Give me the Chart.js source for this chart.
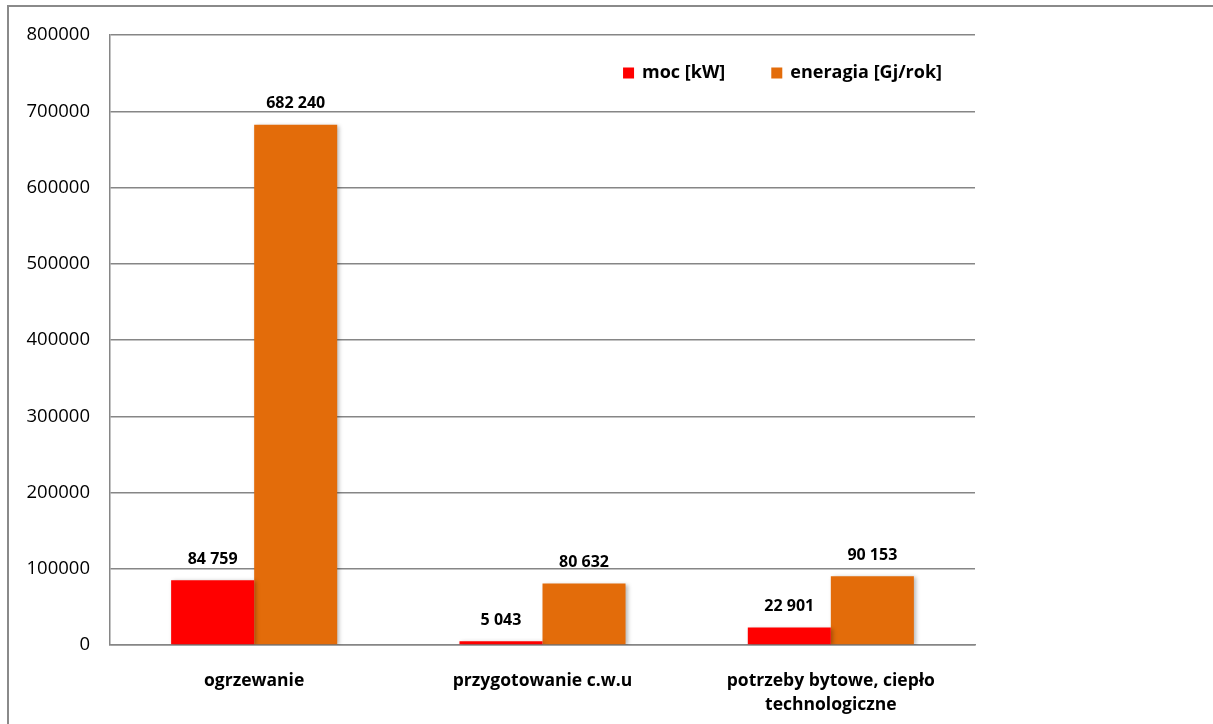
<!DOCTYPE html>
<html>
<head>
<meta charset="utf-8">
<script src="https://cdn.jsdelivr.net/npm/chart.js@4.4.1/dist/chart.umd.min.js"></script>
<style>
  html, body { margin: 0; padding: 0; background: #fff; overflow: hidden; }
  #frame { position: absolute; left: 7px; top: 5px; width: 1400px; height: 900px;
           border: 2px solid #8a8a8a; box-sizing: border-box; }
  #wrap { position: absolute; left: 0; top: 0; width: 1213px; height: 724px; }
</style>
</head>
<body>
<div id="frame"></div>
<div id="wrap"><canvas id="chart" width="1213" height="724"></canvas></div>
<script>
// Zapotrzebowanie na ciepło według rodzaju potrzeb
const categories = [
  'ogrzewanie',
  'przygotowanie c.w.u',
  ['potrzeby bytowe, ciepło', 'technologiczne']
];
const mocKW = [84759, 5043, 22901];
const energiaGJ = [682240, 80632, 90153];
const yTicks = [0, 100000, 200000, 300000, 400000, 500000, 600000, 700000, 800000];

const FONT = '"Open Sans", "Liberation Sans", sans-serif';

function formatSpaced(v) {
  return String(Math.round(v)).replace(/\B(?=(\d{3})+(?!\d))/g, ' ');
}

// Soft drop shadow under the bars
const barShadow = {
  id: 'barShadow',
  beforeDatasetsDraw(chart) {
    const ctx = chart.ctx;
    ctx.save();
    ctx.shadowColor = 'rgba(0,0,0,0.28)';
    ctx.shadowBlur = 4;
    ctx.shadowOffsetX = 2;
    ctx.shadowOffsetY = 1;
  },
  afterDatasetsDraw(chart) {
    chart.ctx.restore();
  }
};

// Value labels above every bar
const valueLabels = {
  id: 'valueLabels',
  afterDatasetsDraw(chart) {
    const ctx = chart.ctx;
    ctx.save();
    ctx.font = 'bold 16px ' + FONT;
    ctx.fillStyle = '#000';
    ctx.textAlign = 'center';
    ctx.textBaseline = 'middle';
    chart.data.datasets.forEach((ds, di) => {
      const meta = chart.getDatasetMeta(di);
      meta.data.forEach((bar, i) => {
        ctx.fillText(formatSpaced(ds.data[i]), bar.x, bar.y - 21);
      });
    });
    ctx.restore();
  }
};

// Legend drawn inside the plot area, top-right corner
const innerLegend = {
  id: 'innerLegend',
  afterDraw(chart) {
    const ctx = chart.ctx;
    const area = chart.chartArea;
    const box = 11, gapText = 8, gapItem = 46;
    ctx.save();
    ctx.font = 'bold 18px ' + FONT;
    ctx.textBaseline = 'middle';
    ctx.textAlign = 'left';
    const items = chart.data.datasets.map(ds => ({
      text: ds.label, color: ds.backgroundColor, w: ctx.measureText(ds.label).width
    }));
    const total = items.reduce((s, it) => s + box + gapText + it.w, 0) + gapItem * (items.length - 1);
    let x = area.right - 33 - total;
    const y = area.top + 38;
    items.forEach(it => {
      ctx.fillStyle = it.color;
      ctx.fillRect(x, y - box / 2, box, box);
      ctx.fillStyle = '#000';
      ctx.fillText(it.text, x + box + gapText, y);
      x += box + gapText + it.w + gapItem;
    });
    ctx.restore();
  }
};

new Chart(document.getElementById('chart'), {
  type: 'bar',
  data: {
    labels: categories,
    datasets: [
      { label: 'moc [kW]', data: mocKW, backgroundColor: '#ff0000', borderWidth: 0,
        categoryPercentage: 0.576, barPercentage: 1.0 },
      { label: 'eneragia [Gj/rok]', data: energiaGJ, backgroundColor: '#e36c0a', borderWidth: 0,
        categoryPercentage: 0.576, barPercentage: 1.0 }
    ]
  },
  options: {
    responsive: false,
    animation: false,
    devicePixelRatio: 1,
    layout: { padding: { left: 0, top: 35, right: 238, bottom: 0 } },
    plugins: {
      tooltip: { enabled: false },
      legend: { display: false }
    },
    scales: {
      x: {
        grid: { display: false },
        border: { display: true, color: '#868686', width: 1.5 },
        ticks: {
          color: '#000',
          padding: 16,
          maxRotation: 0,
          font: { family: FONT, size: 17.5, weight: 'bold', lineHeight: 1.37 }
        },
        afterFit(scale) { scale.height = 724 - 645; }
      },
      y: {
        min: 0,
        max: 800000,
        afterBuildTicks(scale) { scale.ticks = yTicks.map(v => ({ value: v })); },
        grid: { color: '#868686', lineWidth: 1.5, drawTicks: false },
        border: { display: true, color: '#868686', width: 1.5 },
        ticks: {
          color: '#000',
          padding: 20,
          font: { family: FONT, size: 18.5 },
          callback: v => String(v)
        },
        afterFit(scale) { scale.width = 110; }
      }
    }
  },
  plugins: [barShadow, valueLabels, innerLegend]
});
</script>
</body>
</html>
